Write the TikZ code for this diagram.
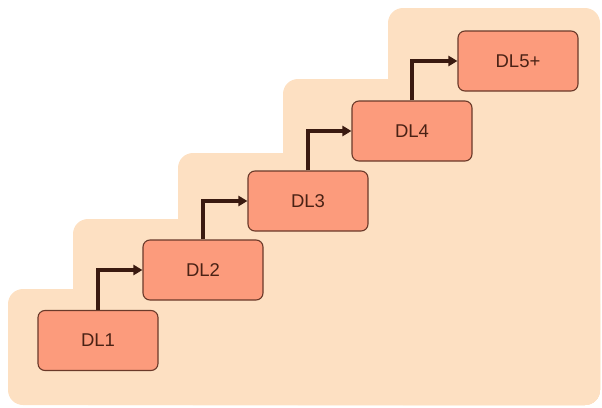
\documentclass[tikz,border=0pt]{standalone}
\usepackage{fontspec}
\setmainfont{Liberation Sans}
\usetikzlibrary{arrows.meta}
\definecolor{bgc}{HTML}{FDE0C2}
\definecolor{boxc}{HTML}{FC9B7C}
\definecolor{boxd}{HTML}{6B3A2A}
\definecolor{txtc}{HTML}{4A2215}
\definecolor{arrc}{HTML}{3A1A10}
\begin{document}
\begin{tikzpicture}[x=1pt,y=-1pt,
  stepfill/.style={fill=bgc,rounded corners=15pt},
  dlbox/.style={draw=boxd,fill=boxc,line width=1.1pt,rounded corners=7pt,
    minimum width=120pt,minimum height=60pt,inner sep=0pt,
    text=txtc,font=\fontsize{18.5}{22}\selectfont},
  riser/.style={draw=arrc,line width=3.2pt,-{Triangle[length=9pt,width=10pt]}}]
\useasboundingbox (0,0) rectangle (602,407);
\fill[stepfill] (8,289) rectangle (600,405);
\fill[stepfill] (73,219) rectangle (600,405);
\fill[stepfill] (178,153) rectangle (600,405);
\fill[stepfill] (283,79) rectangle (600,405);
\fill[stepfill] (388,8) rectangle (600,405);
\node[dlbox] (d1) at (98,340.5) {DL1};
\node[dlbox] (d2) at (203,270) {DL2};
\node[dlbox] (d3) at (308,201) {DL3};
\node[dlbox] (d4) at (412,131) {DL4};
\node[dlbox] (d5) at (518,61) {DL5+};
\draw[riser] (d1.north) |- (d2.west);
\draw[riser] (d2.north) |- (d3.west);
\draw[riser] (d3.north) |- (d4.west);
\draw[riser] (d4.north) |- (d5.west);
\end{tikzpicture}
\end{document}
